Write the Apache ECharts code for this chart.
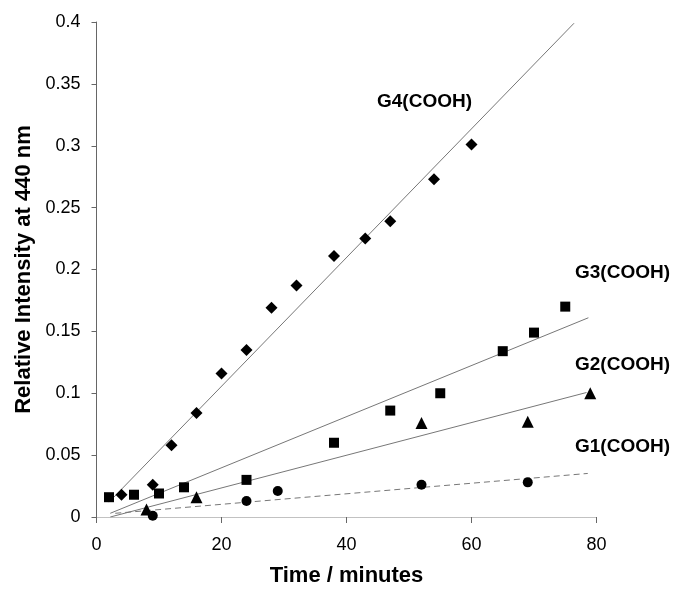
<!DOCTYPE html>
<html>
<head>
<meta charset="utf-8">
<title>Relative Intensity at 440 nm</title>
<script src="https://cdn.jsdelivr.net/npm/echarts@6/dist/echarts.min.js"></script>
<style>
  html, body { margin: 0; padding: 0; background: #fff; }
  #chart { width: 673px; height: 592px; }
</style>
</head>
<body>
<div id="chart"></div>
<script>
// data: [time (min), relative intensity]
const g4Points = [
  [4, 0.018], [9, 0.026], [12, 0.058], [16, 0.084], [20, 0.116], [24, 0.135],
  [28, 0.169], [32, 0.187], [38, 0.211], [43, 0.225], [47, 0.239], [54, 0.273],
  [60, 0.301],
];
const g3Points = [
  [2, 0.016], [6, 0.018], [10, 0.019], [14, 0.024], [24, 0.030], [38, 0.060],
  [47, 0.086], [55, 0.100], [65, 0.134], [70, 0.149], [75, 0.170],
];
const g2Points = [[8, 0.006], [16, 0.016], [52, 0.076], [69, 0.077], [79, 0.100]];
const g1Points = [[9, 0.001], [24, 0.013], [29, 0.021], [52, 0.026], [69, 0.028]];

// trend line end points
const g4Fit = [[2, 0.012], [76.4, 0.399]];
const g3Fit = [[2.2, 0.003], [78.7, 0.161]];
const g2Fit = [[2.2, 0.0], [78.4, 0.1006]];
const g1Fit = [[3, 0.003], [78.6, 0.0352]];

const seriesNames = ["G4(COOH)", "G3(COOH)", "G2(COOH)", "G1(COOH)"];
const xTickLabels = ["0", "20", "40", "60", "80"];
const yTickLabels = ["0", "0.05", "0.1", "0.15", "0.2", "0.25", "0.3", "0.35", "0.4"];

const FONT = "'Liberation Sans', Arial, sans-serif";

const chart = echarts.init(document.getElementById("chart"), null, { renderer: "canvas" });

function fitLine(name, data, dashed) {
  return {
    name: name + " fit",
    type: "line",
    data: data,
    symbol: "none",
    silent: true,
    z: 2,
    lineStyle: { color: "#777", width: 1, type: dashed ? [6, 4] : "solid" },
  };
}

function points(name, data, symbol, size) {
  return {
    name: name,
    type: "scatter",
    data: data,
    symbol: symbol,
    symbolSize: size,
    z: 3,
    itemStyle: { color: "#000", opacity: 1 },
  };
}

const option = {
  animation: false,
  backgroundColor: "#fff",
  grid: { left: 96.5, right: 76.5, top: 22, bottom: 74 },
  xAxis: {
    type: "value",
    min: 0,
    max: 80,
    interval: 20,
    name: "Time / minutes",
    nameLocation: "middle",
    nameGap: 48,
    nameTextStyle: { fontFamily: FONT, fontSize: 22, fontWeight: "bold", color: "#000" },
    axisLine: { show: true, lineStyle: { color: "#bbb", width: 1, type: "dotted" } },
    axisTick: { show: true, length: 6, lineStyle: { color: "#666" } },
    axisLabel: {
      margin: 19,
      fontFamily: FONT,
      fontSize: 18,
      color: "#000",
      formatter: (v) => xTickLabels[Math.round(v / 20)],
    },
    splitLine: { show: false },
  },
  yAxis: {
    type: "value",
    min: 0,
    max: 0.4,
    interval: 0.05,
    name: "Relative Intensity at 440 nm",
    nameLocation: "middle",
    nameGap: 62,
    nameTextStyle: { fontFamily: FONT, fontSize: 22, fontWeight: "bold", color: "#000" },
    axisLine: { show: true, lineStyle: { color: "#666", width: 1 } },
    axisTick: { show: true, length: 5, lineStyle: { color: "#666" } },
    axisLabel: {
      margin: 16,
      fontFamily: FONT,
      fontSize: 18,
      color: "#000",
      formatter: (v) => yTickLabels[Math.round(v / 0.05)],
    },
    splitLine: { show: false },
  },
  series: [
    fitLine(seriesNames[0], g4Fit, false),
    fitLine(seriesNames[1], g3Fit, false),
    fitLine(seriesNames[2], g2Fit, false),
    fitLine(seriesNames[3], g1Fit, true),
    points(seriesNames[0], g4Points, "diamond", 12),
    points(seriesNames[1], g3Points, "rect", 10),
    points(seriesNames[2], g2Points, "triangle", 12),
    points(seriesNames[3], g1Points, "circle", 10),
  ],
  // curve labels
  graphic: [
    { type: "text", left: 377, top: 92, style: { text: seriesNames[0], font: "bold 19px " + FONT, fill: "#000" } },
    { type: "text", left: 575, top: 263, style: { text: seriesNames[1], font: "bold 19px " + FONT, fill: "#000" } },
    { type: "text", left: 575, top: 355, style: { text: seriesNames[2], font: "bold 19px " + FONT, fill: "#000" } },
    { type: "text", left: 575, top: 437, style: { text: seriesNames[3], font: "bold 19px " + FONT, fill: "#000" } },
  ],
};

chart.setOption(option);
</script>
</body>
</html>
